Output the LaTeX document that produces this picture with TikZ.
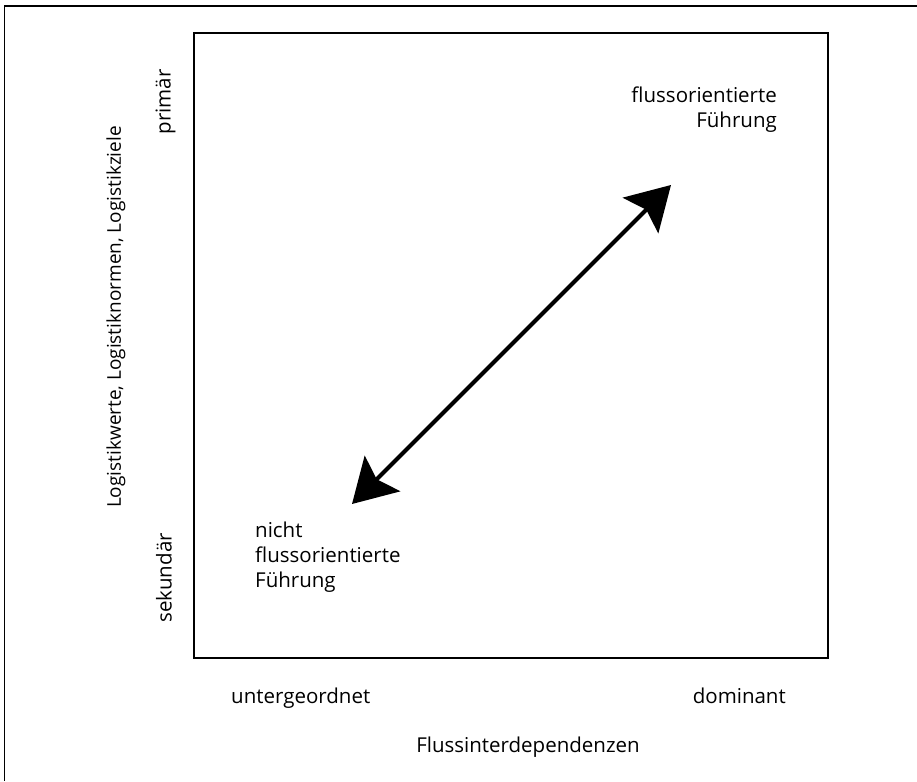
\documentclass[tikz,border=0pt]{standalone}
\usepackage{fontspec}
\setmainfont{Open Sans}
\usetikzlibrary{arrows.meta}

\begin{document}
\begin{tikzpicture}[x=1pt, y=-1pt,
  lbl/.style={font=\fontsize{20.5}{25}\selectfont, inner sep=0pt},
  frame/.style={draw=black, line width=1.5pt},
  twoway/.style={{Stealth[length=43pt, width=50pt, inset=8pt]}-{Stealth[length=43pt, width=50pt, inset=8pt]}, line width=4pt}]
\useasboundingbox (0,0) rectangle (917,781);
\draw[frame] (917,6) -- (4.5,6) -- (4.5,781);
\node (box) [frame, rectangle, minimum width=634pt, minimum height=625pt, inner sep=0pt] at (511,345.5) {};

\node (prim) [lbl, rotate=90] at (165.5,102) {primär};
\node (sek) [lbl, rotate=90] at (164,578) {sekundär};
\node (yaxis) [lbl, font=\fontsize{19}{23}\selectfont, rotate=90] at (116,317) {Logistikwerte, Logistiknormen, Logistikziele};

\node (unter) [lbl, anchor=base west] at (231,703) {untergeordnet};
\node (dom) [lbl, anchor=base east] at (786,703) {dominant};
\node (xaxis) [lbl, anchor=base] at (528,752) {Flussinterdependenzen};

\node (flow) [lbl, align=right, anchor=north east] at (777,87) {flussorientierte\\Führung};
\node (noflow) [lbl, align=left, anchor=north west] at (255,522) {nicht\\flussorientierte\\Führung};

\coordinate (lo) at (352,504);
\coordinate (hi) at (671,185);
\draw[twoway] (lo) -- (hi);
\end{tikzpicture}
\end{document}
